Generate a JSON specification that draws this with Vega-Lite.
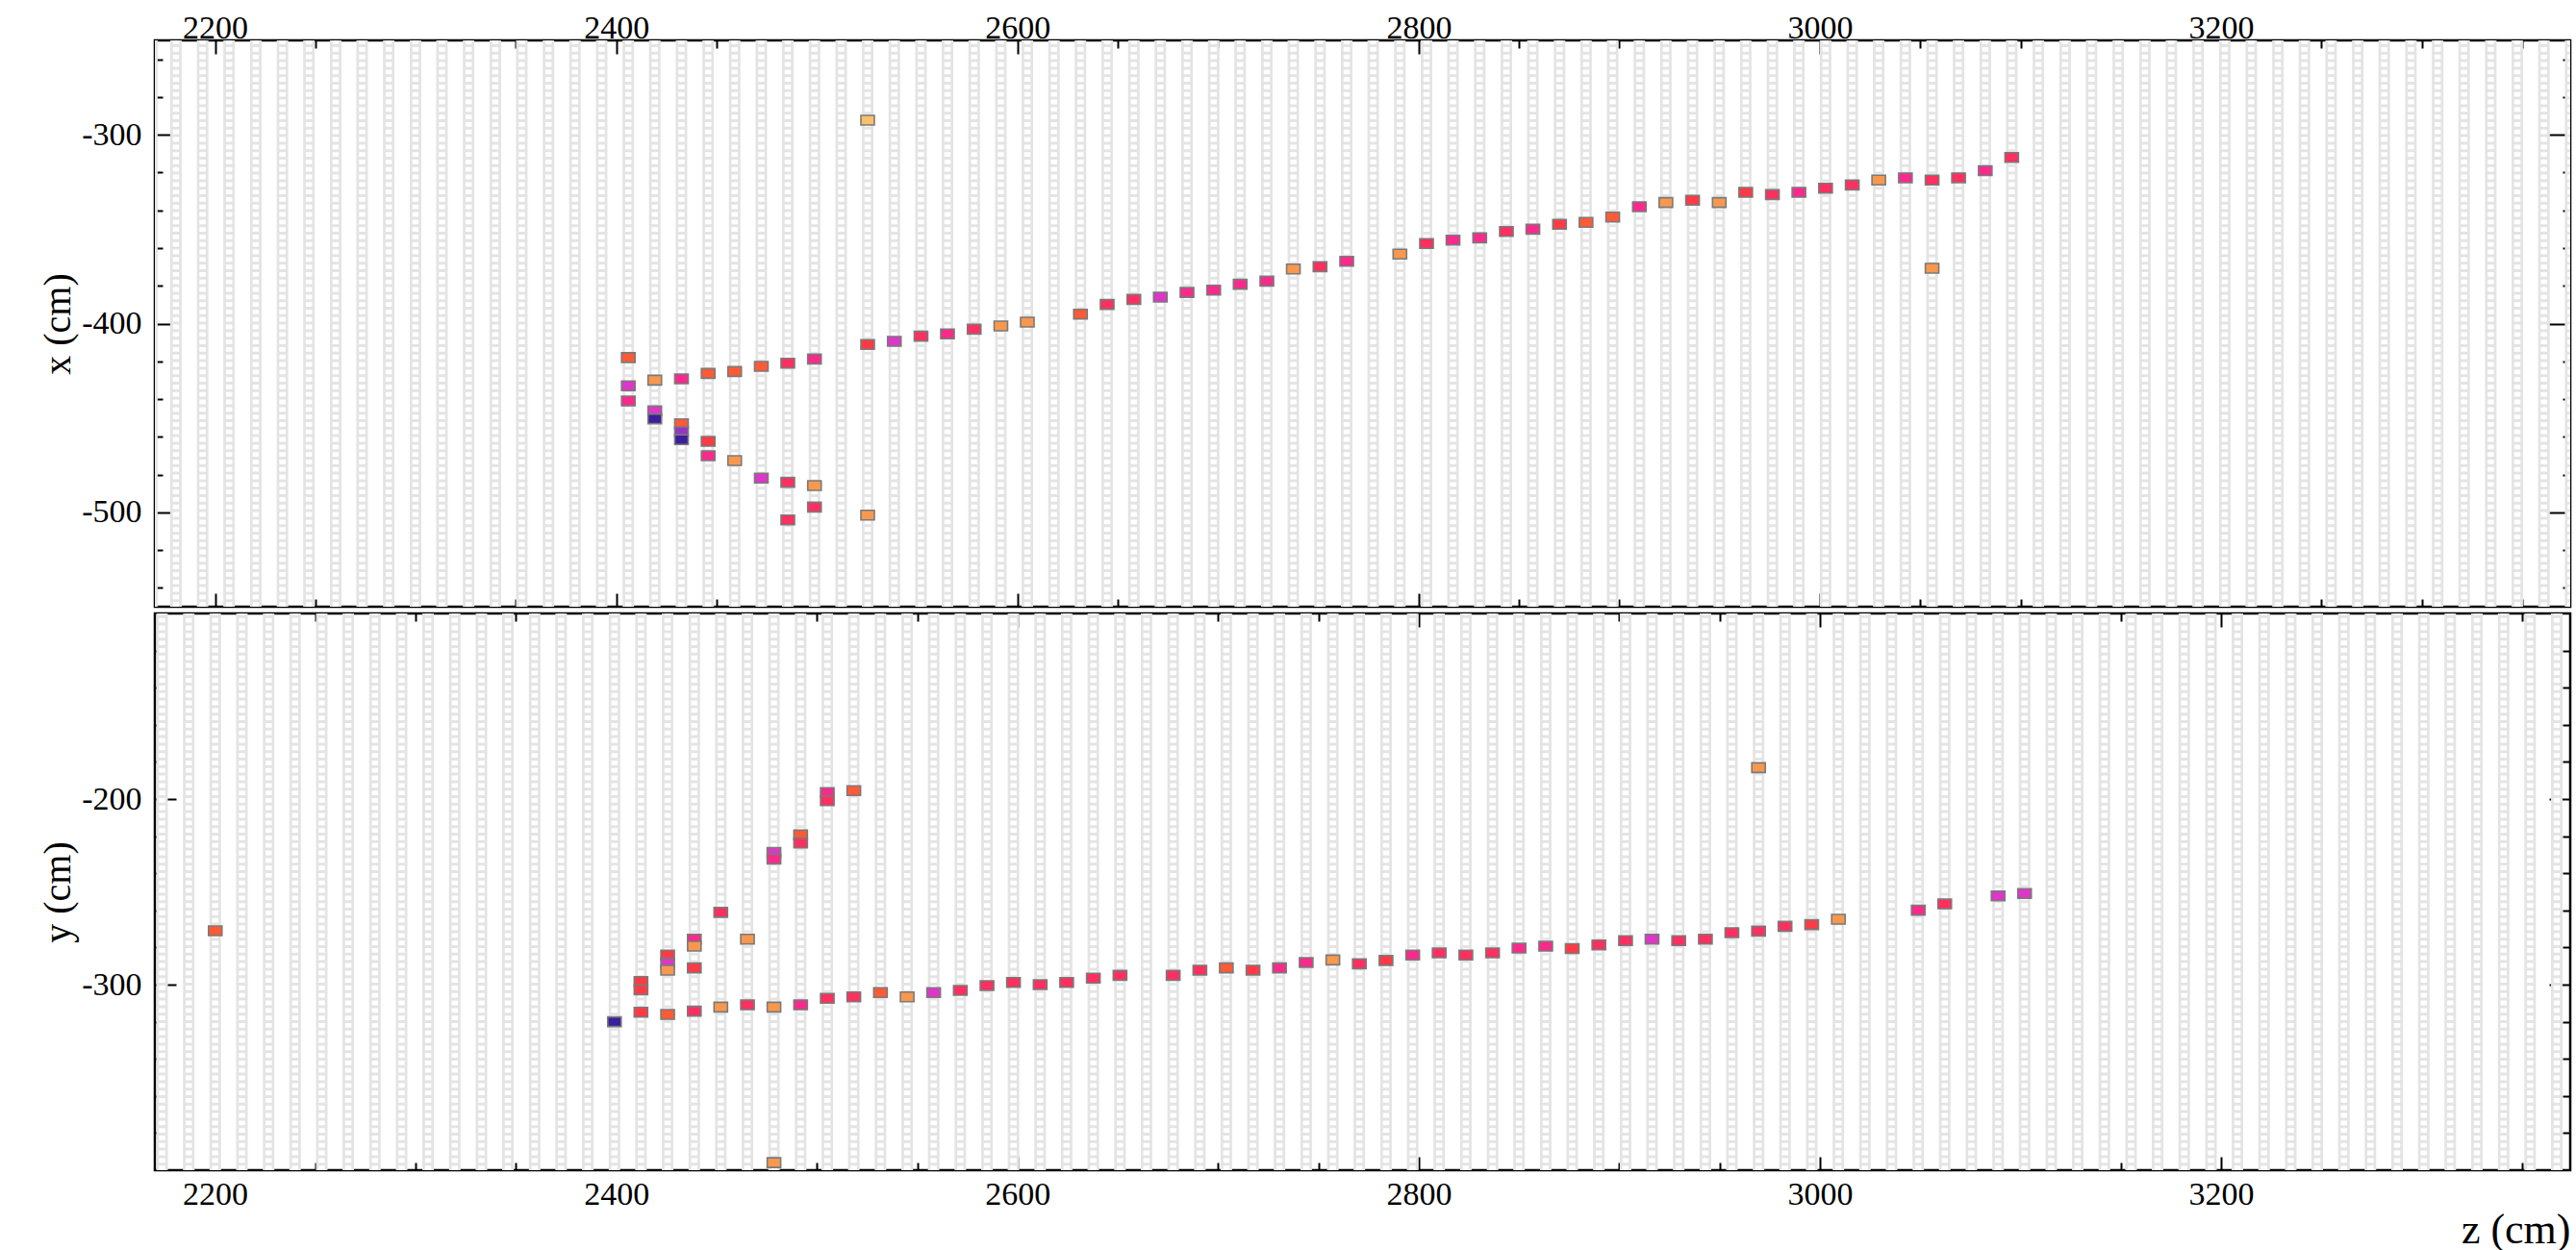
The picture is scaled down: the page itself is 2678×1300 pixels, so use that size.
{
  "$schema": "https://vega.github.io/schema/vega-lite/v6.json",
  "background": "white",
  "padding": {"left": 39, "top": 4, "right": 8, "bottom": 0},
  "spacing": 7,
  "bounds": "flush",
  "config": {
    "view": {"stroke": "black", "strokeWidth": 2.5},
    "axis": {
      "domain": false,
      "grid": false,
      "tickColor": "black",
      "tickWidth": 2,
      "labelColor": "black",
      "labelFont": "Liberation Serif",
      "labelFontSize": 34,
      "labelOverlap": false,
      "labelFlush": false,
      "titleFont": "Liberation Serif",
      "titleFontSize": 40,
      "titleFontWeight": "normal",
      "titleColor": "black"
    }
  },
  "datasets": {
    "xplanes": [{"z":2168.5},{"z":2180.5},{"z":2193.8},{"z":2207.0},{"z":2220.3},{"z":2233.6},{"z":2246.8},{"z":2260.1},{"z":2273.3},{"z":2286.6},{"z":2299.9},{"z":2313.1},{"z":2326.4},{"z":2339.7},{"z":2352.9},{"z":2366.2},{"z":2379.4},{"z":2392.7},{"z":2406.0},{"z":2419.2},{"z":2432.5},{"z":2445.8},{"z":2459.0},{"z":2472.3},{"z":2485.5},{"z":2498.8},{"z":2512.1},{"z":2525.3},{"z":2538.6},{"z":2551.9},{"z":2565.1},{"z":2578.4},{"z":2591.7},{"z":2604.9},{"z":2618.2},{"z":2631.4},{"z":2644.7},{"z":2658.0},{"z":2671.2},{"z":2684.5},{"z":2697.8},{"z":2711.0},{"z":2724.3},{"z":2737.5},{"z":2750.8},{"z":2764.1},{"z":2777.3},{"z":2790.6},{"z":2803.9},{"z":2817.1},{"z":2830.4},{"z":2843.7},{"z":2856.9},{"z":2870.2},{"z":2883.4},{"z":2896.7},{"z":2910.0},{"z":2923.2},{"z":2936.5},{"z":2949.8},{"z":2963.0},{"z":2976.3},{"z":2989.5},{"z":3002.8},{"z":3016.1},{"z":3029.3},{"z":3042.6},{"z":3055.9},{"z":3069.1},{"z":3082.4},{"z":3095.6},{"z":3108.9},{"z":3122.2},{"z":3135.4},{"z":3148.7},{"z":3162.0},{"z":3175.2},{"z":3188.5},{"z":3201.8},{"z":3215.0},{"z":3228.3},{"z":3241.5},{"z":3254.8},{"z":3268.1},{"z":3281.3},{"z":3294.6},{"z":3307.9},{"z":3321.1},{"z":3334.4},{"z":3347.6},{"z":3360.9},{"z":3374.2}],
    "yplanes": [{"z":2173.6},{"z":2186.9},{"z":2200.1},{"z":2213.4},{"z":2226.7},{"z":2239.9},{"z":2253.2},{"z":2266.4},{"z":2279.7},{"z":2293.0},{"z":2306.2},{"z":2319.5},{"z":2332.8},{"z":2346.0},{"z":2359.3},{"z":2372.5},{"z":2385.8},{"z":2399.1},{"z":2412.3},{"z":2425.6},{"z":2438.9},{"z":2452.1},{"z":2465.4},{"z":2478.6},{"z":2491.9},{"z":2505.2},{"z":2518.4},{"z":2531.7},{"z":2545.0},{"z":2558.2},{"z":2571.5},{"z":2584.8},{"z":2598.0},{"z":2611.3},{"z":2624.5},{"z":2637.8},{"z":2651.1},{"z":2664.3},{"z":2677.6},{"z":2690.9},{"z":2704.1},{"z":2717.4},{"z":2730.6},{"z":2743.9},{"z":2757.2},{"z":2770.4},{"z":2783.7},{"z":2797.0},{"z":2810.2},{"z":2823.5},{"z":2836.8},{"z":2850.0},{"z":2863.3},{"z":2876.5},{"z":2889.8},{"z":2903.1},{"z":2916.3},{"z":2929.6},{"z":2942.9},{"z":2956.1},{"z":2969.4},{"z":2982.6},{"z":2995.9},{"z":3009.2},{"z":3022.4},{"z":3035.7},{"z":3049.0},{"z":3062.2},{"z":3075.5},{"z":3088.8},{"z":3102.0},{"z":3115.3},{"z":3128.5},{"z":3141.8},{"z":3155.1},{"z":3168.3},{"z":3181.6},{"z":3194.9},{"z":3208.1},{"z":3221.4},{"z":3234.7},{"z":3247.9},{"z":3261.2},{"z":3274.4},{"z":3287.7},{"z":3301.0},{"z":3314.2},{"z":3327.5},{"z":3340.8},{"z":3354.0},{"z":3367.3}],
    "xhits": [
      {"z":2406.0,"p":-418.0,"q":3},{"z":2406.0,"p":-433.0,"q":7},{"z":2406.0,"p":-441.0,"q":6},
      {"z":2419.2,"p":-430.0,"q":2},{"z":2419.2,"p":-446.3,"q":7},{"z":2419.2,"p":-450.5,"q":9},
      {"z":2432.5,"p":-429.3,"q":6},{"z":2432.5,"p":-453.1,"q":3},{"z":2432.5,"p":-457.3,"q":8},{"z":2432.5,"p":-461.5,"q":9},
      {"z":2445.8,"p":-426.4,"q":3},{"z":2445.8,"p":-462.4,"q":4},{"z":2445.8,"p":-470.0,"q":6},
      {"z":2459.0,"p":-425.4,"q":3},{"z":2459.0,"p":-472.6,"q":2},
      {"z":2472.3,"p":-422.7,"q":3},{"z":2472.3,"p":-481.9,"q":7},
      {"z":2485.5,"p":-421.0,"q":5},{"z":2485.5,"p":-484.1,"q":5},{"z":2485.5,"p":-504.0,"q":5},
      {"z":2498.8,"p":-418.8,"q":6},{"z":2498.8,"p":-485.8,"q":2},{"z":2498.8,"p":-497.2,"q":5},
      {"z":2525.3,"p":-292.3,"q":1},{"z":2525.3,"p":-411.1,"q":4},{"z":2525.3,"p":-501.5,"q":2},
      {"z":2538.6,"p":-409.4,"q":7},
      {"z":2551.9,"p":-406.7,"q":5},
      {"z":2565.1,"p":-405.5,"q":6},
      {"z":2578.4,"p":-403.0,"q":5},
      {"z":2591.7,"p":-401.3,"q":2},
      {"z":2604.9,"p":-399.2,"q":2},
      {"z":2631.4,"p":-395.0,"q":3},
      {"z":2644.7,"p":-389.9,"q":5},
      {"z":2658.0,"p":-387.2,"q":5},
      {"z":2671.2,"p":-386.0,"q":7},
      {"z":2684.5,"p":-383.5,"q":6},
      {"z":2697.8,"p":-382.3,"q":6},
      {"z":2711.0,"p":-379.2,"q":6},
      {"z":2724.3,"p":-377.5,"q":6},
      {"z":2737.5,"p":-371.1,"q":2},
      {"z":2750.8,"p":-369.9,"q":5},
      {"z":2764.1,"p":-367.0,"q":6},
      {"z":2790.6,"p":-363.2,"q":2},
      {"z":2803.9,"p":-357.6,"q":5},
      {"z":2817.1,"p":-355.8,"q":6},
      {"z":2830.4,"p":-354.6,"q":6},
      {"z":2843.7,"p":-351.2,"q":5},
      {"z":2856.9,"p":-350.0,"q":6},
      {"z":2870.2,"p":-347.4,"q":4},
      {"z":2883.4,"p":-346.4,"q":3},
      {"z":2896.7,"p":-343.6,"q":3},
      {"z":2910.0,"p":-338.1,"q":6},
      {"z":2923.2,"p":-335.9,"q":2},
      {"z":2936.5,"p":-334.7,"q":4},
      {"z":2949.8,"p":-335.9,"q":2},
      {"z":2963.0,"p":-330.5,"q":4},
      {"z":2976.3,"p":-331.7,"q":5},
      {"z":2989.5,"p":-330.5,"q":6},
      {"z":3002.8,"p":-328.3,"q":5},
      {"z":3016.1,"p":-326.6,"q":5},
      {"z":3029.3,"p":-324.0,"q":2},
      {"z":3042.6,"p":-322.8,"q":6},
      {"z":3055.9,"p":-324.0,"q":5},{"z":3055.9,"p":-370.7,"q":2},
      {"z":3069.1,"p":-322.8,"q":5},
      {"z":3082.4,"p":-319.0,"q":6},
      {"z":3095.6,"p":-312.0,"q":5}
    ],
    "yhits": [
      {"z":2200.1,"p":-271.0,"q":3},
      {"z":2399.1,"p":-320.0,"q":9},
      {"z":2412.3,"p":-298.3,"q":4},{"z":2412.3,"p":-302.8,"q":4},{"z":2412.3,"p":-314.9,"q":4},
      {"z":2425.6,"p":-284.1,"q":4},{"z":2425.6,"p":-288.4,"q":7},{"z":2425.6,"p":-292.2,"q":2},{"z":2425.6,"p":-316.1,"q":3},
      {"z":2438.9,"p":-275.5,"q":6},{"z":2438.9,"p":-279.3,"q":2},{"z":2438.9,"p":-291.0,"q":4},{"z":2438.9,"p":-314.3,"q":5},
      {"z":2452.1,"p":-261.1,"q":5},{"z":2452.1,"p":-312.1,"q":2},
      {"z":2465.4,"p":-275.5,"q":2},{"z":2465.4,"p":-310.9,"q":5},
      {"z":2478.6,"p":-228.8,"q":7},{"z":2478.6,"p":-232.3,"q":6},{"z":2478.6,"p":-312.1,"q":2},{"z":2478.6,"p":-395.9,"q":2},
      {"z":2491.9,"p":-219.3,"q":3},{"z":2491.9,"p":-223.7,"q":5},{"z":2491.9,"p":-310.9,"q":6},
      {"z":2505.2,"p":-196.5,"q":6},{"z":2505.2,"p":-200.9,"q":5},{"z":2505.2,"p":-307.4,"q":5},
      {"z":2518.4,"p":-195.5,"q":3},{"z":2518.4,"p":-306.6,"q":5},
      {"z":2531.7,"p":-304.3,"q":3},
      {"z":2545.0,"p":-306.6,"q":2},
      {"z":2558.2,"p":-304.3,"q":7},
      {"z":2571.5,"p":-303.1,"q":5},
      {"z":2584.8,"p":-300.5,"q":5},
      {"z":2598.0,"p":-298.8,"q":5},
      {"z":2611.3,"p":-300.0,"q":5},
      {"z":2624.5,"p":-298.8,"q":5},
      {"z":2637.8,"p":-296.5,"q":5},
      {"z":2651.1,"p":-295.0,"q":5},
      {"z":2677.6,"p":-295.0,"q":5},
      {"z":2690.9,"p":-292.2,"q":5},
      {"z":2704.1,"p":-291.0,"q":3},
      {"z":2717.4,"p":-292.2,"q":4},
      {"z":2730.6,"p":-291.0,"q":6},
      {"z":2743.9,"p":-288.1,"q":6},
      {"z":2757.2,"p":-286.7,"q":2},
      {"z":2770.4,"p":-288.8,"q":5},
      {"z":2783.7,"p":-287.0,"q":4},
      {"z":2797.0,"p":-284.1,"q":6},
      {"z":2810.2,"p":-282.9,"q":5},
      {"z":2823.5,"p":-284.1,"q":5},
      {"z":2836.8,"p":-282.9,"q":5},
      {"z":2850.0,"p":-280.3,"q":6},
      {"z":2863.3,"p":-279.3,"q":6},
      {"z":2876.5,"p":-280.6,"q":4},
      {"z":2889.8,"p":-278.6,"q":5},
      {"z":2903.1,"p":-276.3,"q":5},
      {"z":2916.3,"p":-275.5,"q":7},
      {"z":2929.6,"p":-276.3,"q":5},
      {"z":2942.9,"p":-275.5,"q":5},
      {"z":2956.1,"p":-272.0,"q":5},
      {"z":2969.4,"p":-271.2,"q":5},{"z":2969.4,"p":-183.1,"q":2},
      {"z":2982.6,"p":-268.6,"q":5},
      {"z":2995.9,"p":-267.7,"q":4},
      {"z":3009.2,"p":-264.8,"q":2},
      {"z":3049.0,"p":-259.9,"q":6},
      {"z":3062.2,"p":-256.5,"q":5},
      {"z":3088.8,"p":-252.2,"q":7},
      {"z":3102.0,"p":-250.9,"q":7}
    ]
  },
  "vconcat": [
    {
      "width": 2511,
      "height": 589,
      "resolve": {"axis": {"x": "independent", "y": "independent"}},
      "layer": [
        {
          "data": {"name": "xplanes"},
          "mark": {"type": "rule", "stroke": "#e4e4e4", "strokeWidth": 12, "strokeCap": "butt", "clip": true},
          "encoding": {
            "x": {
              "field": "z", "type": "quantitative",
              "scale": {"domain": [2170, 3374], "nice": false, "zero": false},
              "axis": {
                "orient": "top", "title": null,
                "values": [2200,2250,2300,2350,2400,2450,2500,2550,2600,2650,2700,2750,2800,2850,2900,2950,3000,3050,3100,3150,3200,3250,3300,3350],
                "labelExpr": "datum.value % 200 === 0 ? '' + datum.value : ''",
                "labelBaseline": "alphabetic",
                "tickSize": {"condition": {"test": "datum.value % 200 === 0", "value": -14}, "value": -8},
                "labelPadding": 17
              }
            },
            "y": {
              "datum": -550, "type": "quantitative",
              "scale": {"domain": [-550, -250], "nice": false, "zero": false},
              "axis": {
                "orient": "left", "title": "x (cm)", "titlePadding": 4,
                "values": [-540,-520,-500,-480,-460,-440,-420,-400,-380,-360,-340,-320,-300,-280,-260],
                "labelExpr": "datum.value % 100 === 0 ? '' + datum.value : ''",
                "tickSize": {"condition": {"test": "datum.value % 100 === 0", "value": -22}, "value": -8},
                "labelPadding": 36
              }
            },
            "y2": {"datum": -250}
          }
        },
        {
          "data": {"name": "xplanes"},
          "mark": {"type": "rule", "stroke": "white", "strokeWidth": 6.5, "strokeCap": "butt", "strokeDash": [4.8, 3], "clip": true},
          "encoding": {
            "x": {"field": "z", "type": "quantitative", "axis": null},
            "y": {"datum": -550, "type": "quantitative", "axis": null},
            "y2": {"datum": -250}
          }
        },
        {
          "data": {"name": "xhits"},
          "mark": {"type": "rect", "width": 14, "height": 10, "stroke": "#7a7a7a", "strokeWidth": 1.6},
          "encoding": {
            "x": {
              "field": "z", "type": "quantitative",
              "axis": {
                "orient": "bottom", "title": null, "labels": false,
                "values": [2200,2250,2300,2350,2400,2450,2500,2550,2600,2650,2700,2750,2800,2850,2900,2950,3000,3050,3100,3150,3200,3250,3300,3350],
                "tickSize": {"condition": {"test": "datum.value % 200 === 0", "value": -14}, "value": -8}
              }
            },
            "y": {
              "field": "p", "type": "quantitative",
              "axis": {
                "orient": "right", "title": null, "labels": false,
                "values": [-540,-520,-500,-480,-460,-440,-420,-400,-380,-360,-340,-320,-300,-280,-260],
                "tickSize": {"condition": {"test": "datum.value % 100 === 0", "value": -22}, "value": -8}
              }
            },
            "color": {
              "field": "q", "type": "quantitative", "legend": null,
              "scale": {"type": "linear", "domain": [1,2,3,4,5,6,7,8,9], "range": ["#f9c06a","#f7984e","#ff5a36","#ff3a44","#ff2f5f","#fa2a8c","#dc37c6","#9435c4","#3a1e9c"]}
            }
          }
        }
      ]
    },
    {
      "width": 2511,
      "height": 579,
      "resolve": {"axis": {"x": "independent", "y": "independent"}},
      "layer": [
        {
          "data": {"name": "yplanes"},
          "mark": {"type": "rule", "stroke": "#e4e4e4", "strokeWidth": 12, "strokeCap": "butt", "clip": true},
          "encoding": {
            "x": {
              "field": "z", "type": "quantitative",
              "scale": {"domain": [2170, 3374], "nice": false, "zero": false},
              "axis": {
                "orient": "bottom", "title": "z (cm)", "titleAnchor": "end", "titlePadding": -8, "titleFontSize": 44,
                "values": [2200,2250,2300,2350,2400,2450,2500,2550,2600,2650,2700,2750,2800,2850,2900,2950,3000,3050,3100,3150,3200,3250,3300,3350],
                "labelExpr": "datum.value % 200 === 0 ? '' + datum.value : ''",
                "tickSize": {"condition": {"test": "datum.value % 200 === 0", "value": -14}, "value": -8},
                "labelPadding": 22
              }
            },
            "y": {
              "datum": -400, "type": "quantitative",
              "scale": {"domain": [-400, -100], "nice": false, "zero": false},
              "axis": {
                "orient": "left", "title": "y (cm)", "titlePadding": 4,
                "values": [-380,-360,-340,-320,-300,-280,-260,-240,-220,-200,-180,-160,-140,-120],
                "labelExpr": "datum.value % 100 === 0 ? '' + datum.value : ''",
                "tickSize": {"condition": {"test": "datum.value % 100 === 0", "value": -22}, "value": -8},
                "labelPadding": 36
              }
            },
            "y2": {"datum": -100}
          }
        },
        {
          "data": {"name": "yplanes"},
          "mark": {"type": "rule", "stroke": "white", "strokeWidth": 6.5, "strokeCap": "butt", "strokeDash": [4.8, 3], "clip": true},
          "encoding": {
            "x": {"field": "z", "type": "quantitative", "axis": null},
            "y": {"datum": -400, "type": "quantitative", "axis": null},
            "y2": {"datum": -100}
          }
        },
        {
          "data": {"name": "yhits"},
          "mark": {"type": "rect", "width": 14, "height": 10, "stroke": "#7a7a7a", "strokeWidth": 1.6},
          "encoding": {
            "x": {
              "field": "z", "type": "quantitative",
              "axis": {
                "orient": "top", "title": null, "labels": false,
                "values": [2200,2250,2300,2350,2400,2450,2500,2550,2600,2650,2700,2750,2800,2850,2900,2950,3000,3050,3100,3150,3200,3250,3300,3350],
                "tickSize": {"condition": {"test": "datum.value % 200 === 0", "value": -14}, "value": -8}
              }
            },
            "y": {
              "field": "p", "type": "quantitative",
              "axis": {
                "orient": "right", "title": null, "labels": false,
                "values": [-380,-360,-340,-320,-300,-280,-260,-240,-220,-200,-180,-160,-140,-120],
                "tickSize": {"condition": {"test": "datum.value % 100 === 0", "value": -22}, "value": -8}
              }
            },
            "color": {
              "field": "q", "type": "quantitative", "legend": null,
              "scale": {"type": "linear", "domain": [1,2,3,4,5,6,7,8,9], "range": ["#f9c06a","#f7984e","#ff5a36","#ff3a44","#ff2f5f","#fa2a8c","#dc37c6","#9435c4","#3a1e9c"]}
            }
          }
        }
      ]
    }
  ]
}
